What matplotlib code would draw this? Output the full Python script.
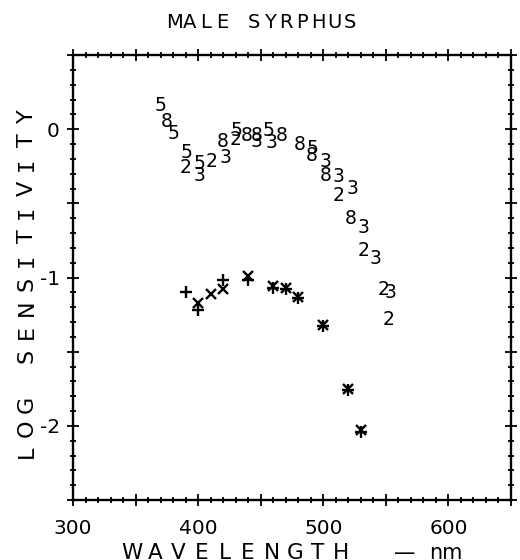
import matplotlib
matplotlib.use("Agg")
import matplotlib.pyplot as plt
from matplotlib.ticker import MultipleLocator, FuncFormatter

# data (wavelength nm, log sensitivity)
# digit symbols = separate cells, drawn as text characters
digit_5_wl = [370, 380, 391, 401, 431, 456, 491]
digit_5_val = [0.16, -0.03, -0.16, -0.23, -0.01, -0.01, -0.13]
digit_8_wl = [375, 420, 439, 447, 467, 481, 491, 502, 522]
digit_8_val = [0.05, -0.08, -0.04, -0.04, -0.04, -0.10, -0.18, -0.31, -0.60]
digit_3_wl = [401, 422, 447, 459, 502, 512, 523, 532, 542, 554]
digit_3_val = [-0.31, -0.19, -0.08, -0.09, -0.22, -0.32, -0.40, -0.66, -0.87, -1.10]
digit_2_wl = [390, 411, 430, 512, 532, 548, 552]
digit_2_val = [-0.26, -0.22, -0.07, -0.45, -0.82, -1.08, -1.28]

# + and x symbols (an asterisk is both at one point)
plus_wl = [390, 400, 420, 440, 460, 470, 480, 500, 520, 530]
plus_val = [-1.10, -1.22, -1.02, -1.02, -1.07, -1.08, -1.14, -1.33, -1.76, -2.04]
cross_wl = [400, 410, 420, 440, 460, 470, 480, 500, 520, 530]
cross_val = [-1.17, -1.11, -1.08, -0.99, -1.06, -1.07, -1.13, -1.32, -1.75, -2.03]

x_ticks = [300, 400, 500, 600]
y_ticks = [0, -1, -2]

W, H = 520, 560


def put_char(fig, x, y, ch, size, rotation=0):
    # the old plotter "I" has serifs, mono font has them too
    fam = 'DejaVu Sans Mono' if ch == 'I' else 'DejaVu Sans'
    fig.text(x / W, 1 - y / H, ch, ha='center', va='baseline',
             rotation=rotation, rotation_mode='anchor',
             fontsize=size, family=fam)


def spaced_text(fig, cx, cy, s, pitch, size, rotation=0):
    # plotter lettering: one char at a time with a fixed pitch
    n = len(s)
    for i, ch in enumerate(s):
        off = (i - (n - 1) / 2) * pitch
        if rotation == 90:
            put_char(fig, cx, cy - off, ch, size, rotation)
        else:
            put_char(fig, cx + off, cy, ch, size, rotation)


def main():
    fig = plt.figure(figsize=(W / 100, H / 100), dpi=100)
    ax = fig.add_axes([73 / W, 1 - 500 / H, 438 / W, 445 / H])

    for wl, val, ch in [(digit_5_wl, digit_5_val, '5'), (digit_8_wl, digit_8_val, '8'),
                        (digit_3_wl, digit_3_val, '3'), (digit_2_wl, digit_2_val, '2')]:
        for x, y in zip(wl, val):
            ax.text(x, y, ch, ha='center', va='center', fontsize=13.5, color='black')

    ax.plot(plus_wl, plus_val, ls='none', marker='+', ms=8, mew=1.7, color='black')
    ax.plot(cross_wl, cross_val, ls='none', marker='x', ms=7, mew=1.7, color='black')

    ax.set_xlim(300, 650)
    ax.set_ylim(-2.5, 0.5)

    ax.xaxis.set_major_locator(MultipleLocator(50))
    ax.xaxis.set_minor_locator(MultipleLocator(10))
    ax.yaxis.set_major_locator(MultipleLocator(0.5))
    ax.yaxis.set_minor_locator(MultipleLocator(0.1))
    ax.xaxis.set_major_formatter(FuncFormatter(
        lambda v, p: '%d' % v if int(round(v)) in x_ticks else ''))
    ax.yaxis.set_major_formatter(FuncFormatter(
        lambda v, p: '%d' % round(v) if abs(v - round(v)) < 1e-6 and int(round(v)) in y_ticks else ''))

    ax.tick_params(which='both', direction='inout', top=True, right=True, width=1.3)
    ax.tick_params(which='major', length=9, labelsize=14.5)
    ax.tick_params(which='minor', length=5)
    ax.tick_params(axis='x', which='major', pad=9)
    ax.tick_params(axis='y', which='major', pad=5)
    for sp in ax.spines.values():
        sp.set_linewidth(1.7)

    spaced_text(fig, 262, 28, 'MALE SYRPHUS', 16, 14)
    spaced_text(fig, 236.5, 559, 'WAVELENGTH', 23.3, 15.5)
    put_char(fig, 405, 559, '\u2014', 15.5)
    fig.text(446 / W, 1 - 559 / H, 'nm', ha='center', va='baseline', fontsize=15)
    spaced_text(fig, 33, 284, 'LOG SENSITIVITY', 24, 16, rotation=90)

    fig.savefig('out.png', dpi=100)


if __name__ == "__main__":
    main()
